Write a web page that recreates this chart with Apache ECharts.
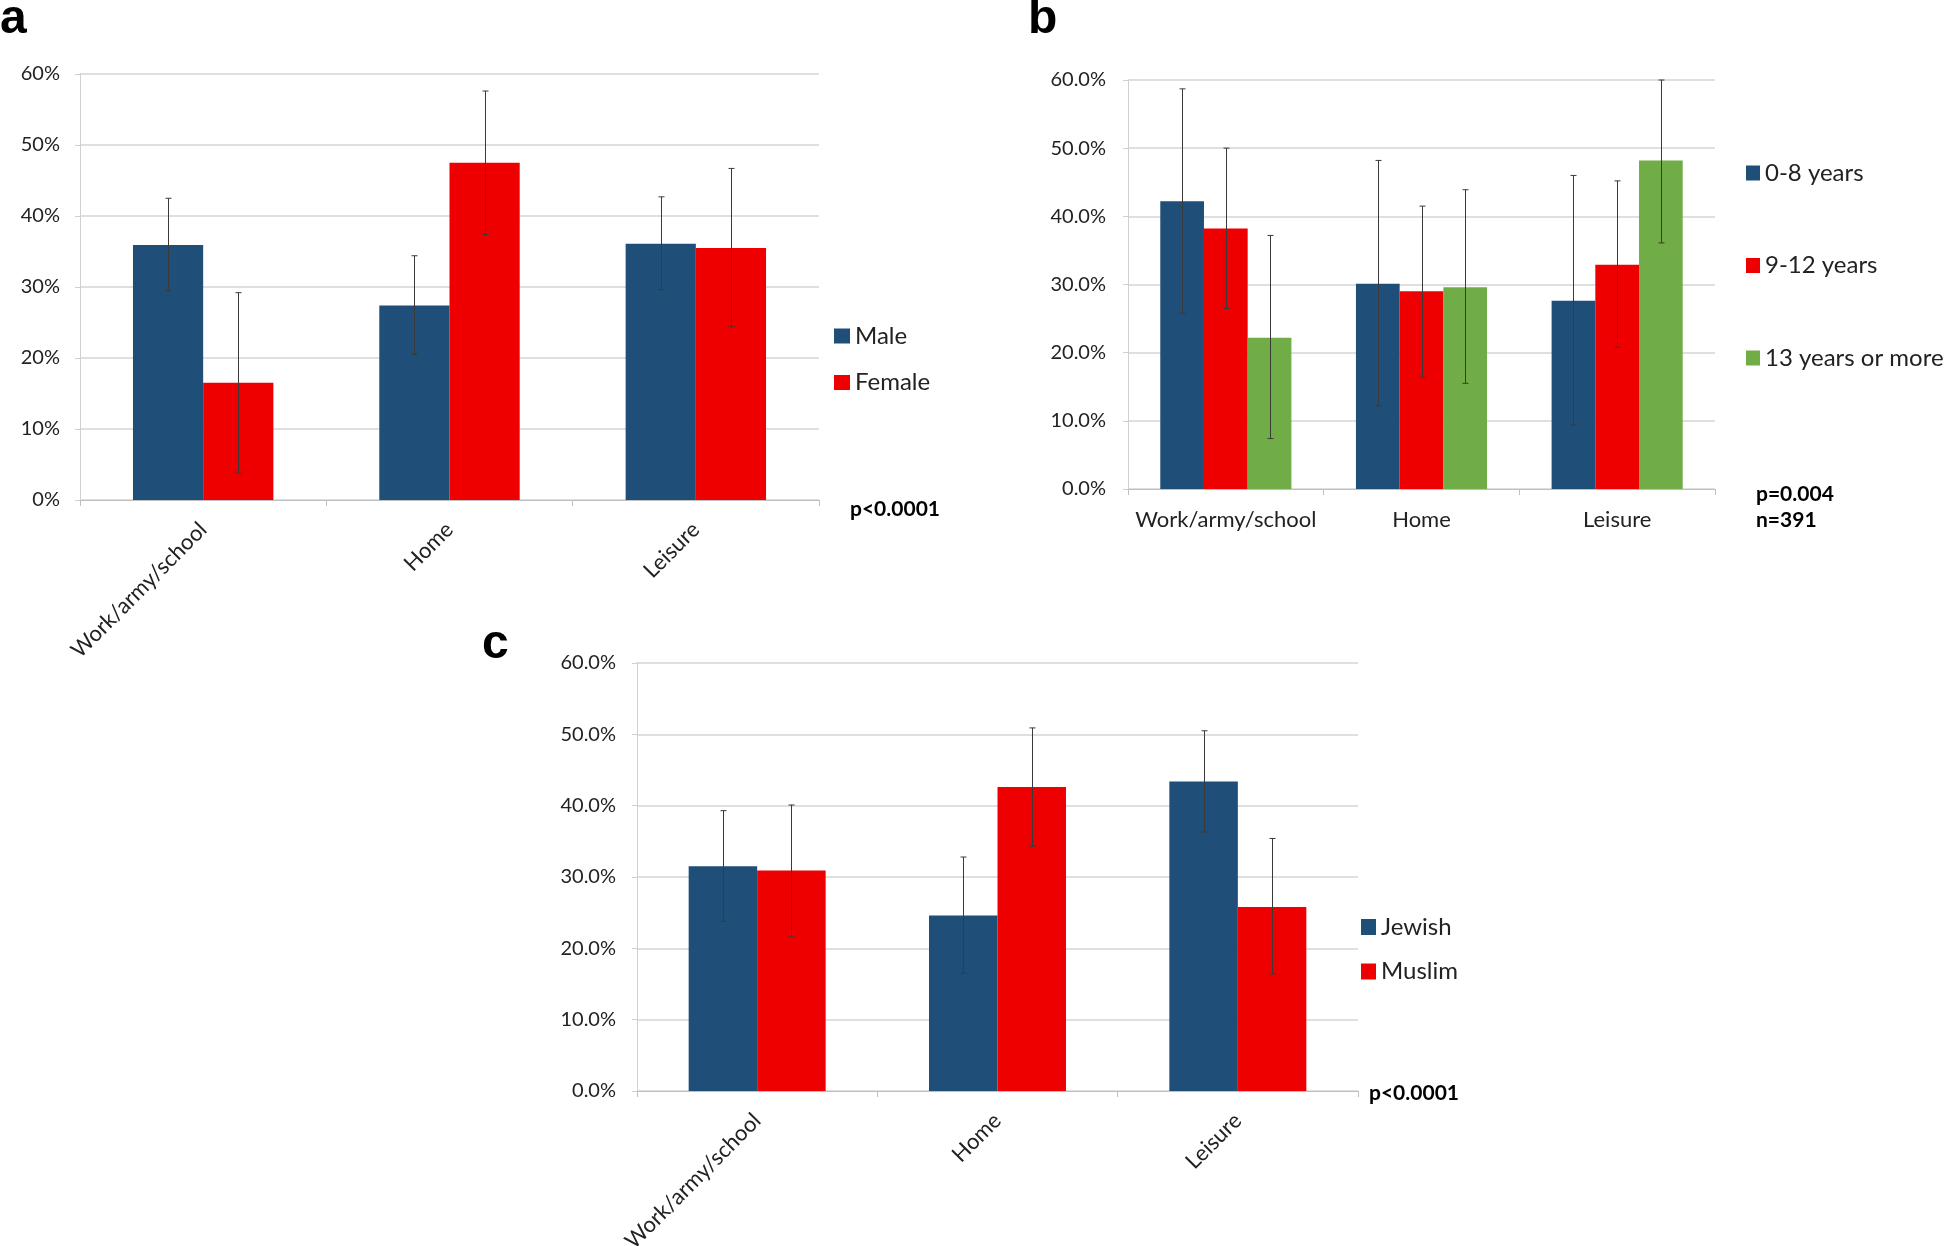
<!DOCTYPE html>
<html><head><meta charset="utf-8">
<script src="https://cdn.jsdelivr.net/npm/echarts@6/dist/echarts.min.js"></script>
<style>html,body{margin:0;padding:0;background:#fff}#c{width:1946px;height:1246px}</style>
</head><body><div id="c"></div>
<script>
// ---- data ----
const categories = ['Work/army/school', 'Home', 'Leisure'];

// panel a (sex)
const maleVals = [35.9, 27.4, 36.1];
const maleLow = [29.5, 20.5, 29.6];
const maleHigh = [42.5, 34.4, 42.7];
const femaleVals = [16.5, 47.5, 35.5];
const femaleLow = [3.8, 37.4, 24.4];
const femaleHigh = [29.2, 57.6, 46.7];

// panel b (education)
const edu08Vals = [42.2, 30.1, 27.6];
const edu08Low = [25.8, 12.2, 9.4];
const edu08High = [58.7, 48.2, 46.0];
const edu912Vals = [38.2, 29.0, 32.9];
const edu912Low = [26.5, 16.4, 20.8];
const edu912High = [50.0, 41.5, 45.2];
const edu13Vals = [22.2, 29.6, 48.2];
const edu13Low = [7.4, 15.5, 36.1];
const edu13High = [37.2, 43.9, 60.0];

// panel c (religion)
const jewishVals = [31.5, 24.6, 43.4];
const jewishLow = [23.8, 16.5, 36.3];
const jewishHigh = [39.3, 32.8, 50.5];
const muslimVals = [30.9, 42.6, 25.8];
const muslimLow = [21.7, 34.3, 16.4];
const muslimHigh = [40.1, 50.9, 35.4];

// ---- styling ----
const BLUE = '#1F4E79', RED = '#EE0000', GREEN = '#70AD47';
const FONT = 'Lato, "Open Sans", sans-serif';
const GAP_A = 0.43, GAP_B = 0.33, GAP_C = 0.43;

function errData(seriesIdx, lows, highs) {
  return lows.map((lo, i) => [i, seriesIdx, lo, highs[i]]);
}
function errRender(n, gap) {
  return function (params, api) {
    const cat = api.value(0), k = api.value(1), lo = api.value(2), hi = api.value(3);
    const band = api.size([1, 0])[0];
    const bw = band * (1 - gap) / n;
    const pLo = api.coord([cat, lo]);
    const pHi = api.coord([cat, hi]);
    const x = Math.round(pLo[0] + (k - (n - 1) / 2) * bw) + 0.5;
    const st = { stroke: '#3a3a3a', lineWidth: 1 };
    const cap = 3;
    return { type: 'group', children: [
      { type: 'line', shape: { x1: x, y1: pLo[1], x2: x, y2: pHi[1] }, style: st },
      { type: 'line', shape: { x1: x - cap, y1: pLo[1], x2: x + cap, y2: pLo[1] }, style: st },
      { type: 'line', shape: { x1: x - cap, y1: pHi[1], x2: x + cap, y2: pHi[1] }, style: st }
    ] };
  };
}
function yAxis(grid, dec, margin) {
  return {
    type: 'value', gridIndex: grid, min: 0, max: 60, interval: 10,
    axisLine: { show: true, lineStyle: { color: '#d0d0d0' } },
    axisTick: { show: true, length: 5, lineStyle: { color: '#d0d0d0' } },
    splitLine: { lineStyle: { color: '#d4d4d4', width: 1.5 } },
    axisLabel: { margin: margin, color: '#222', fontSize: 20, fontFamily: FONT,
      formatter: v => (dec ? v.toFixed(1) : v) + '%' }
  };
}
function xAxis(grid, rotate, margin) {
  return {
    type: 'category', gridIndex: grid, data: categories,
    axisLine: { lineStyle: { color: '#bfbfbf' } },
    axisTick: { show: true, length: 6, lineStyle: { color: '#bfbfbf' } },
    axisLabel: { rotate: rotate, margin: margin, color: '#222', fontSize: 22, fontFamily: FONT, interval: 0 }
  };
}
function bar(name, vals, color, axis, gap) {
  return { name: name, type: 'bar', data: vals, xAxisIndex: axis, yAxisIndex: axis,
    itemStyle: { color: color }, barGap: '0%', barCategoryGap: (gap * 100) + '%' };
}
function err(axis, n, gap, data) {
  return { type: 'custom', xAxisIndex: axis, yAxisIndex: axis, renderItem: errRender(n, gap),
    data: data, encode: { x: 0, y: [2, 3] }, z: 5, silent: true };
}
function lbl(text, left, top, size, fam) {
  return { text: text, left: left, top: top, padding: 0,
    textStyle: { fontSize: size, fontWeight: 'bold', color: '#000', fontFamily: fam || FONT, lineHeight: size } };
}
function legend(names, left, top, gapY, iw, ih) {
  return { data: names, orient: 'vertical', left: left, top: top, itemGap: gapY, icon: 'rect',
    itemWidth: iw, itemHeight: ih, padding: 0,
    textStyle: { fontSize: 24, fontFamily: FONT, color: '#222', lineHeight: 22 } };
}

const chart = echarts.init(document.getElementById('c'));
chart.setOption({
  backgroundColor: '#fff',
  animation: false,
  title: [
    lbl('a', 0, -4, 48, '"Liberation Sans", Arial, sans-serif'),
    lbl('b', 1028, -4, 48, '"Liberation Sans", Arial, sans-serif'),
    lbl('c', 482, 621, 48, '"Liberation Sans", Arial, sans-serif'),
    lbl('p<0.0001', 850, 499, 21),
    lbl('p=0.004', 1756, 484, 21),
    lbl('n=391', 1756, 510, 21),
    lbl('p<0.0001', 1369, 1083, 21)
  ],
  legend: [
    legend(['Male', 'Female'], 834, 324, 22.5, 16, 15),
    legend(['0-8 years', '9-12 years', '13 years or more'], 1746, 161, 68.5, 14, 15),
    legend(['Jewish', 'Muslim'], 1361, 915, 20.5, 15, 16)
  ],
  grid: [
    { left: 80, top: 74, width: 739, height: 426, outerBoundsMode: 'none' },
    { left: 1128, top: 80, width: 587, height: 409, outerBoundsMode: 'none' },
    { left: 637, top: 663, width: 721, height: 428, outerBoundsMode: 'none' }
  ],
  xAxis: [xAxis(0, 45, 26), xAxis(1, 0, 20), xAxis(2, 45, 26)],
  yAxis: [yAxis(0, false, 20), yAxis(1, true, 22), yAxis(2, true, 21)],
  series: [
    bar('Male', maleVals, BLUE, 0, GAP_A),
    bar('Female', femaleVals, RED, 0, GAP_A),
    err(0, 2, GAP_A, errData(0, maleLow, maleHigh).concat(errData(1, femaleLow, femaleHigh))),
    bar('0-8 years', edu08Vals, BLUE, 1, GAP_B),
    bar('9-12 years', edu912Vals, RED, 1, GAP_B),
    bar('13 years or more', edu13Vals, GREEN, 1, GAP_B),
    err(1, 3, GAP_B, errData(0, edu08Low, edu08High).concat(errData(1, edu912Low, edu912High), errData(2, edu13Low, edu13High))),
    bar('Jewish', jewishVals, BLUE, 2, GAP_C),
    bar('Muslim', muslimVals, RED, 2, GAP_C),
    err(2, 2, GAP_C, errData(0, jewishLow, jewishHigh).concat(errData(1, muslimLow, muslimHigh)))
  ]
});
</script></body></html>
